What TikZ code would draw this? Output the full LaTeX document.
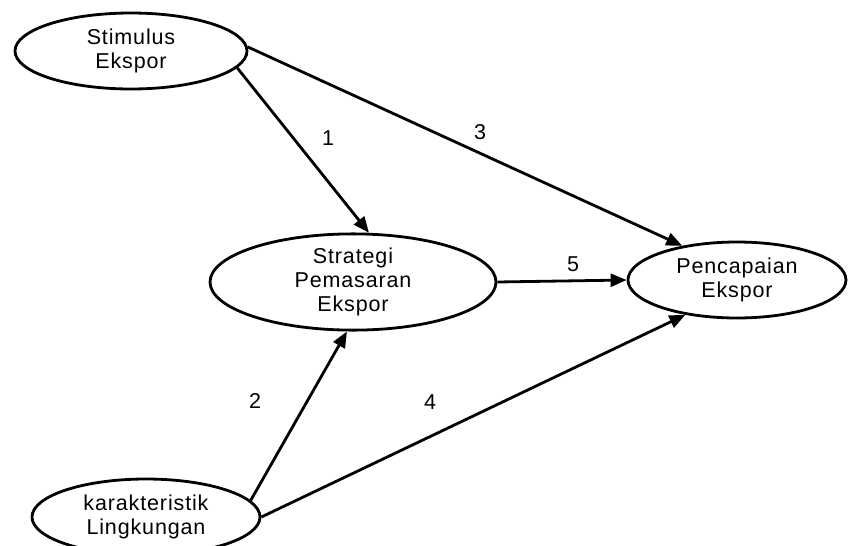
\documentclass[tikz,border=0pt]{standalone}
\usepackage{fontspec}
\setmainfont[LetterSpace=4]{Liberation Sans}
\usetikzlibrary{arrows.meta,shapes.geometric}

\begin{document}
\begin{tikzpicture}[x=1pt,y=-1pt,font=\fontsize{21.5}{24}\selectfont,
  var/.style={draw,ellipse,line width=2.8pt,inner sep=0pt,align=center},
  arr/.style={line width=2.8pt,-{Triangle[length=16pt,width=13pt]}}]
  \useasboundingbox (0,0) rectangle (849,546);
  % variables
  \node[var,minimum width=232pt,minimum height=76pt] (stim) at (131,51) {Stimulus\\Ekspor};
  \node[var,minimum width=286pt,minimum height=90pt] (strat) at (353,282) {Strategi\\Pemasaran\\Ekspor};
  \node[var,minimum width=218pt,minimum height=76pt] (capai) at (737,280) {Pencapaian\\Ekspor};
  \node[var,minimum width=228pt,minimum height=76pt] (karak) at (146,517) {karakteristik\\Lingkungan};
  % paths
  \draw[arr] (stim.-9) -- (strat.72);
  \draw[arr] (stim.2) -- (capai.148);
  \draw[arr] (strat.east) -- (capai.west);
  \draw[arr] (karak.9) -- (strat.-97);
  \draw[arr] (karak.east) -- (capai.214);
  % numbers
  \node (l1) at (328,138) {1};
  \node (l2) at (255,401) {2};
  \node (l3) at (480,132) {3};
  \node (l4) at (430,402) {4};
  \node (l5) at (573,264) {5};
\end{tikzpicture}
\end{document}
